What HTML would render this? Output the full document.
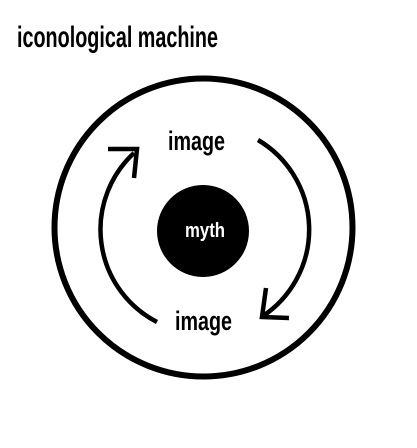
<!DOCTYPE html>
<html><head><meta charset="utf-8"><style>
html,body{margin:0;padding:0;background:#fff;width:417px;height:448px;overflow:hidden}
text{font-family:"Liberation Sans",sans-serif;font-weight:bold}
</style></head><body>
<svg width="417" height="448" viewBox="0 0 417 448">
<text x="17" y="47" font-size="30" textLength="201" lengthAdjust="spacingAndGlyphs" fill="#000">iconological machine</text>
<circle cx="203.5" cy="227.5" r="149" fill="none" stroke="#000" stroke-width="6"/>
<circle cx="203" cy="231" r="46" fill="#000"/>
<text x="185" y="237" font-size="20" textLength="40" lengthAdjust="spacingAndGlyphs" fill="#fff">myth</text>
<text x="168" y="150" font-size="27" textLength="57" lengthAdjust="spacingAndGlyphs" fill="#000">image</text>
<text x="175" y="330" font-size="27" textLength="57" lengthAdjust="spacingAndGlyphs" fill="#000">image</text>
<g fill="none" stroke="#000" stroke-width="4.5">
<path d="M157 322 A104 104 0 0 1 134 153"/>
<path d="M108 149 L137 149 L134 178"/>
</g>
<g fill="none" stroke="#000" stroke-width="4.5">
<path d="M258 140 A104 104 0 0 1 263 316"/>
<path d="M266 288 L262 317 L289 318"/>
</g>
</svg>
</body></html>
